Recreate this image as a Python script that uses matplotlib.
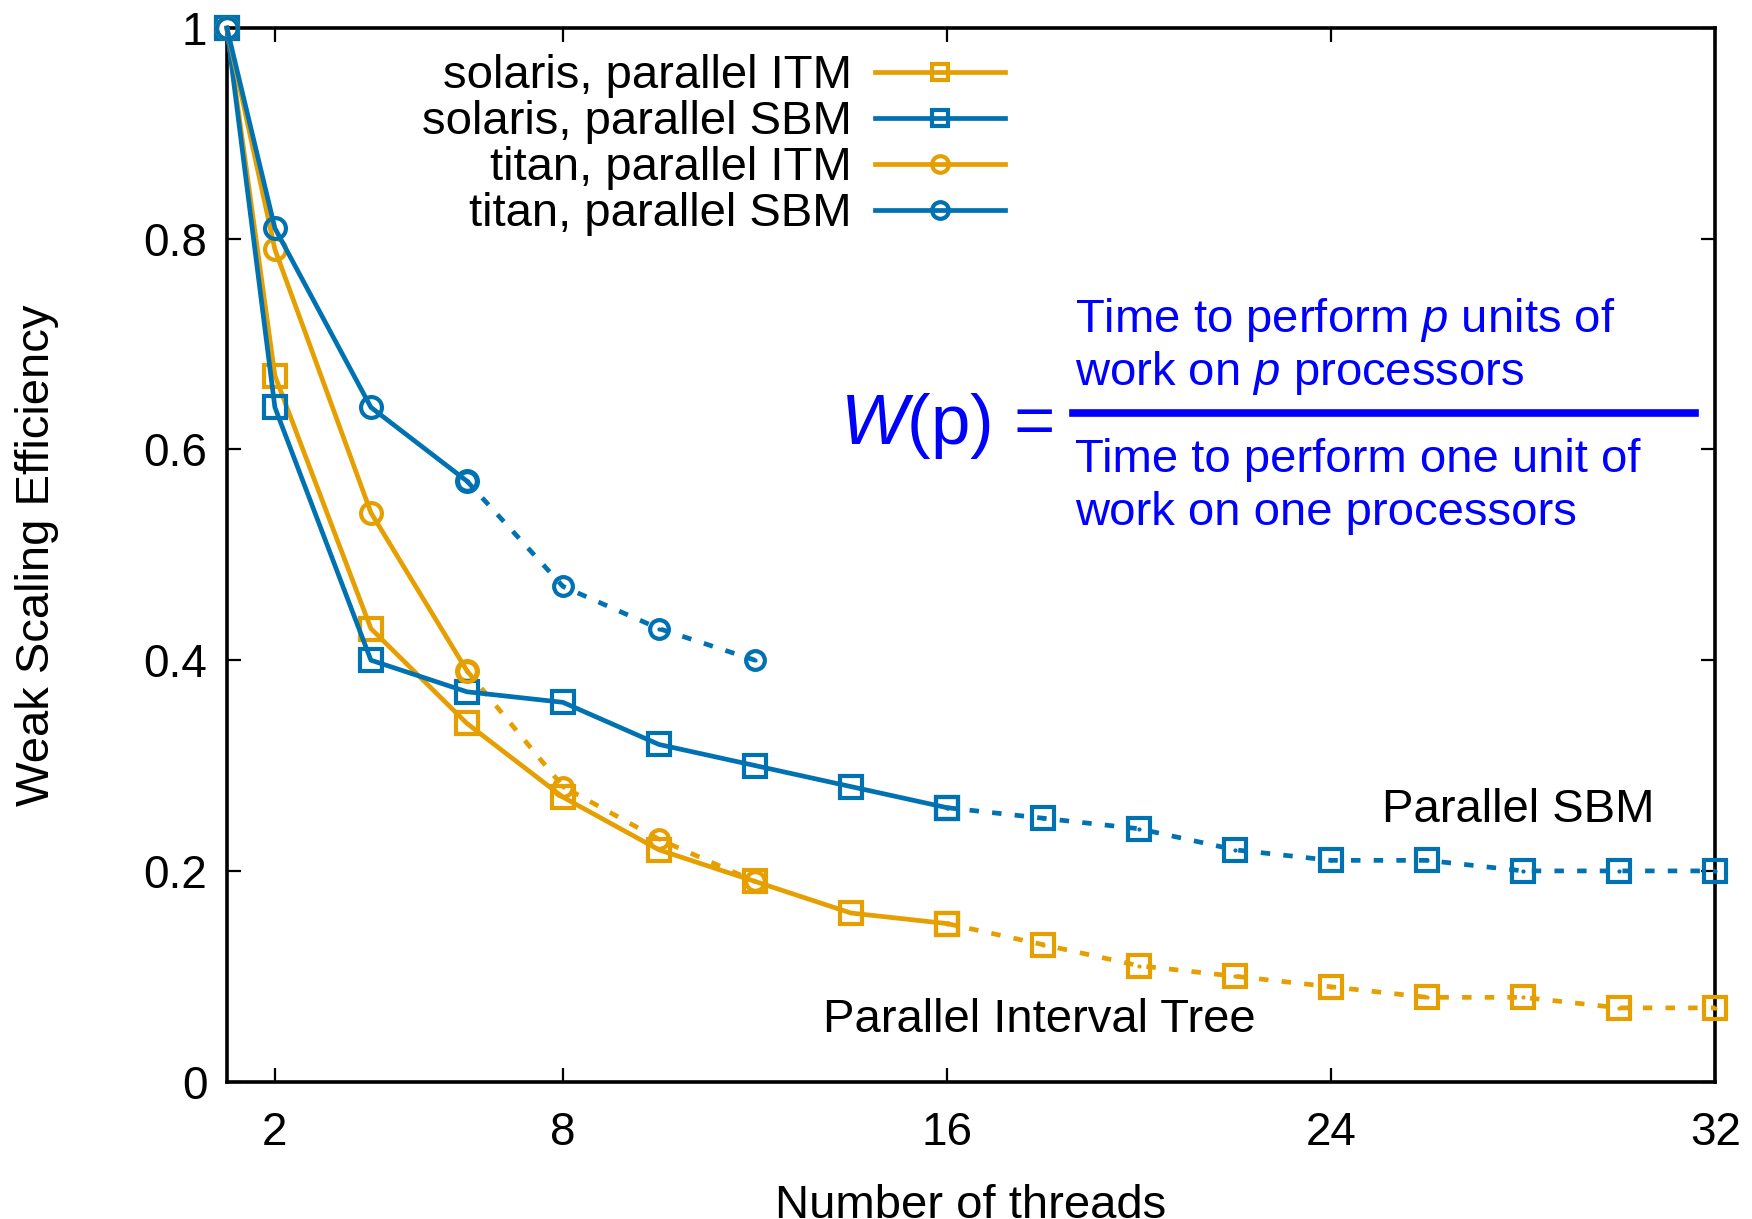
import matplotlib
matplotlib.use("Agg")
import matplotlib.pyplot as plt
from matplotlib.lines import Line2D

plt.rcParams['font.family'] = ['Liberation Sans', 'DejaVu Sans']
plt.rcParams['mathtext.fontset'] = 'custom'
plt.rcParams['mathtext.rm'] = 'Liberation Sans'
plt.rcParams['mathtext.it'] = 'Liberation Sans:italic'

# ---- data ----
threads_solaris = [1, 2, 4, 6, 8, 10, 12, 14, 16]
solaris_itm = [1.0, 0.67, 0.43, 0.34, 0.27, 0.22, 0.19, 0.16, 0.15]
solaris_sbm = [1.0, 0.64, 0.40, 0.37, 0.36, 0.32, 0.30, 0.28, 0.26]
threads_solaris_ext = [16, 18, 20, 22, 24, 26, 28, 30, 32]
solaris_itm_ext = [0.15, 0.13, 0.11, 0.10, 0.09, 0.08, 0.08, 0.07, 0.07]
solaris_sbm_ext = [0.26, 0.25, 0.24, 0.22, 0.21, 0.21, 0.20, 0.20, 0.20]
threads_titan = [1, 2, 4, 6]
titan_itm = [1.0, 0.79, 0.54, 0.39]
titan_sbm = [1.0, 0.81, 0.64, 0.57]
threads_titan_ext = [6, 8, 10, 12]
titan_itm_ext = [0.39, 0.28, 0.23, 0.19]
titan_sbm_ext = [0.57, 0.47, 0.43, 0.40]

xticks = [2, 8, 16, 24, 32]
yticks = [0, 0.2, 0.4, 0.6, 0.8, 1.0]
ytick_labels = ["0", "0.2", "0.4", "0.6", "0.8", "1"]

ORANGE = "#E69F00"
BLUE = "#0072B2"
FORMULA = "#0000FF"

FS = 34

fig = plt.figure(figsize=(17.52, 12.19), dpi=100)
ax = fig.add_axes([0.1295, 0.1127, 0.9790 - 0.1295, 0.977 - 0.1127])

lw = 3.4
ms = 16
mew = 3.0


def dashed(x, y, color, marker, size):
    ax.plot(x, y, color=color, lw=lw, ls=(0, (2.0, 2.8)), marker=marker,
            ms=size, mew=mew, mfc='none', clip_on=False, zorder=3)
    ax.plot(x, y, color=color, lw=0, marker='.', ms=4, clip_on=False, zorder=3)


dashed(threads_solaris_ext, solaris_itm_ext, ORANGE, 's', 15.5)
dashed(threads_solaris_ext, solaris_sbm_ext, BLUE, 's', 15.5)
dashed(threads_titan_ext, titan_itm_ext, ORANGE, 'o', 13.5)
dashed(threads_titan_ext, titan_sbm_ext, BLUE, 'o', 13.5)

l1, = ax.plot(threads_solaris, solaris_itm, color=ORANGE, lw=lw, marker='s', ms=ms,
              mew=mew, mfc='none', clip_on=False, zorder=4, label="solaris, parallel ITM")
l2, = ax.plot(threads_solaris, solaris_sbm, color=BLUE, lw=lw, marker='s', ms=ms,
              mew=mew, mfc='none', clip_on=False, zorder=4, label="solaris, parallel SBM")
l3, = ax.plot(threads_titan, titan_itm, color=ORANGE, lw=lw, marker='o', ms=15,
              mew=mew, mfc='none', clip_on=False, zorder=4, label="titan, parallel ITM")
l4, = ax.plot(threads_titan, titan_sbm, color=BLUE, lw=lw, marker='o', ms=15,
              mew=mew, mfc='none', clip_on=False, zorder=4, label="titan, parallel SBM")

ax.set_xlim(1, 32)
ax.set_ylim(0, 1)
ax.set_xticks(xticks)
ax.set_xticklabels([str(t) for t in xticks])
ax.set_yticks(yticks)
ax.set_yticklabels(ytick_labels)
ax.tick_params(direction='in', length=10, width=1.6, top=True, right=True,
               labelsize=33, pad=14)
ax.tick_params(axis='x', pad=21)
for s in ax.spines.values():
    s.set_linewidth(2.6)

ax.set_ylabel("Weak Scaling Efficiency", fontsize=FS)
ax.yaxis.set_label_coords(-0.113, 0.4995)
ax.set_xlabel("Number of threads", fontsize=FS)
ax.xaxis.set_label_coords(0.5, -0.097)

leg = ax.legend(handles=[l1, l2, l3, l4], loc='upper right',
                bbox_to_anchor=(0.523, 0.975), frameon=False, markerfirst=False,
                fontsize=FS, handlelength=2.75, handletextpad=0.5,
                labelspacing=0.04, borderpad=0, borderaxespad=0)
for h in leg.legend_handles:
    h.set_markersize(12)

# annotations
fig.text(1237 / 1568, 1 - 736 / 1091, "Parallel SBM", fontsize=FS, va='baseline')
fig.text(737 / 1568, 1 - 924 / 1091, "Parallel Interval Tree", fontsize=FS, va='baseline')

# formula
fig.text(752 / 1568, 1 - 397 / 1091, r"$\mathit{W}$(p) =", fontsize=51,
         color=FORMULA, va='baseline')
tx = 962 / 1568
fig.text(tx, 1 - 297 / 1091, r"Time to perform $\mathit{p}$ units of", fontsize=FS,
         color=FORMULA, va='baseline')
fig.text(tx, 1 - 345 / 1091, r"work on $\mathit{p}$ processors", fontsize=FS,
         color=FORMULA, va='baseline')
fig.text(tx, 1 - 422 / 1091, "Time to perform one unit of", fontsize=FS,
         color=FORMULA, va='baseline')
fig.text(tx, 1 - 470 / 1091, "work on one processors", fontsize=FS,
         color=FORMULA, va='baseline')
fig.add_artist(Line2D([960 / 1568, 1517 / 1568], [1 - 370 / 1091, 1 - 370 / 1091],
                      transform=fig.transFigure, color=FORMULA, lw=5.5))

fig.savefig("out.png", dpi=100)
